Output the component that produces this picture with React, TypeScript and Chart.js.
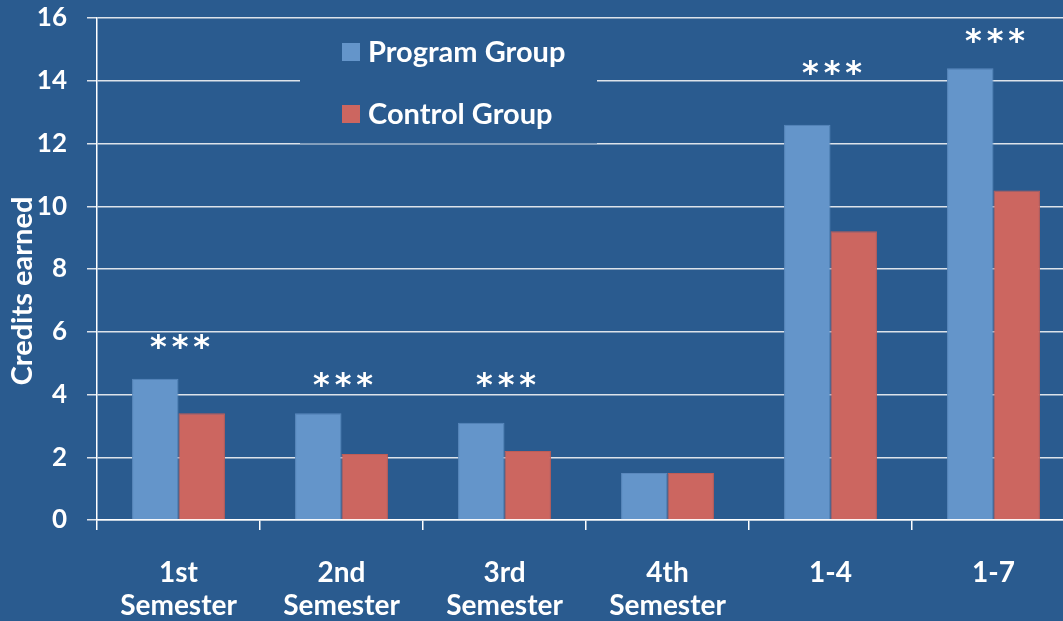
import React, { useEffect, useRef } from "react";
import { Chart, registerables } from "chart.js";

Chart.register(...registerables);

const categories: (string | string[])[] = [
  ["1st", "Semester"],
  ["2nd", "Semester"],
  ["3rd", "Semester"],
  ["4th", "Semester"],
  "1-4",
  "1-7",
];
const programGroup = [4.5, 3.4, 3.1, 1.5, 12.6, 14.4];
const controlGroup = [3.4, 2.1, 2.2, 1.5, 9.2, 10.5];
const seriesNames = ["Program Group", "Control Group"];
const starLabels = ["***", "***", "***", "", "***", "***"];
const starLevels = [5.65, 4.45, 4.45, 0, 14.4, 15.4];
const yTicks = [0, 2, 4, 6, 8, 10, 12, 14, 16];
const yTitle = "Credits earned";

const BG = "#2A5B8F";
const BLUE = "#6495CA";
const RED = "#CC6660";
const GRID = "#DDE3EA";

export default function App() {
  const ref = useRef<HTMLCanvasElement | null>(null);

  useEffect(() => {
    const canvas = ref.current;
    if (!canvas) return;

    const overlay = {
      id: "overlay",
      afterDatasetsDraw(chart: any) {
        const ctx = chart.ctx as CanvasRenderingContext2D;
        const xs = chart.scales.x;
        const ys = chart.scales.y;
        ctx.save();
        // stars
        ctx.fillStyle = "#FFFFFF";
        ctx.font = "bold 32px 'DejaVu Sans'";
        (ctx as any).letterSpacing = "5px";
        ctx.textAlign = "center";
        ctx.textBaseline = "middle";
        starLabels.forEach((s, i) => {
          if (!s) return;
          ctx.fillText(s, xs.getPixelForValue(i) + 4, ys.getPixelForValue(starLevels[i]) + 6);
        });
        (ctx as any).letterSpacing = "0px";
        // legend box
        ctx.fillStyle = BG;
        ctx.fillRect(300, 19, 297, 123);
        ctx.fillStyle = "rgba(42,91,143,0.5)";
        ctx.fillRect(300, 142, 297, 2);
        const colors = [BLUE, RED];
        const ys2 = [52, 114];
        ctx.font = "bold 29px Lato";
        ctx.textAlign = "left";
        ctx.textBaseline = "middle";
        seriesNames.forEach((n, i) => {
          ctx.fillStyle = colors[i];
          ctx.fillRect(342, ys2[i] - 9, 18, 18);
          ctx.fillStyle = "#FFFFFF";
          ctx.fillText(n, 368, ys2[i] + 1);
        });
        // y title
        ctx.save();
        ctx.translate(23, 291);
        ctx.rotate(-Math.PI / 2);
        ctx.font = "bold 29px Lato";
        ctx.textAlign = "center";
        ctx.textBaseline = "middle";
        ctx.fillStyle = "#FFFFFF";
        ctx.fillText(yTitle, 0, 0);
        ctx.restore();
        ctx.restore();
      },
    };

    const chart = new Chart(canvas, {
      type: "bar",
      data: {
        labels: categories,
        datasets: [
          {
            label: seriesNames[0],
            data: programGroup,
            backgroundColor: BLUE,
            borderColor: "#5A88BD",
            borderWidth: 1,
            categoryPercentage: 0.57,
            barPercentage: 1.0,
          },
          {
            label: seriesNames[1],
            data: controlGroup,
            backgroundColor: RED,
            borderColor: "#BE5D57",
            borderWidth: 1,
            categoryPercentage: 0.57,
            barPercentage: 1.0,
          },
        ],
      },
      options: {
        responsive: false,
        animation: false,
        devicePixelRatio: 1,
        layout: { padding: { top: 18, right: 25, left: 0, bottom: 0 } },
        plugins: {
          legend: { display: false },
          tooltip: { enabled: false },
          title: { display: false },
        },
        scales: {
          x: {
            offset: true,
            afterFit: (s: any) => {
              s.height = 101;
              s.paddingTop = 0;
              s.paddingBottom = 0;
            },
            border: { display: true, color: "#FFFFFF", width: 1.5 },
            grid: {
              offset: true,
              drawOnChartArea: false,
              drawTicks: true,
              tickLength: 10,
              color: "#FFFFFF",
              lineWidth: 1.5,
            },
            ticks: {
              color: "#FFFFFF",
              padding: 26,
              maxRotation: 0,
              autoSkip: false,
              font: { family: "Lato", weight: "bold", size: 28, lineHeight: 1.18 },
            },
          },
          y: {
            min: 0,
            max: 16,
            afterFit: (s: any) => {
              s.width = 97;
              s.paddingTop = 0;
              s.paddingBottom = 0;
            },
            afterBuildTicks: (s: any) => {
              s.ticks = yTicks.map((v) => ({ value: v }));
            },
            border: { display: true, color: "#FFFFFF", width: 1.5 },
            grid: {
              color: GRID,
              lineWidth: 1.5,
              drawTicks: true,
              tickLength: 10,
            },
            ticks: {
              color: "#FFFFFF",
              padding: 20,
              font: { family: "Lato", weight: "bold", size: 26 },
            },
          },
        },
      },
      plugins: [overlay],
    } as any);

    return () => chart.destroy();
  }, []);

  return (
    <div
      style={{
        position: "fixed",
        left: 0,
        top: 0,
        width: 1063,
        height: 621,
        overflow: "hidden",
        background: BG,
      }}
    >
      <canvas ref={ref} width={1100} height={621} style={{ display: "block" }} />
    </div>
  );
}
